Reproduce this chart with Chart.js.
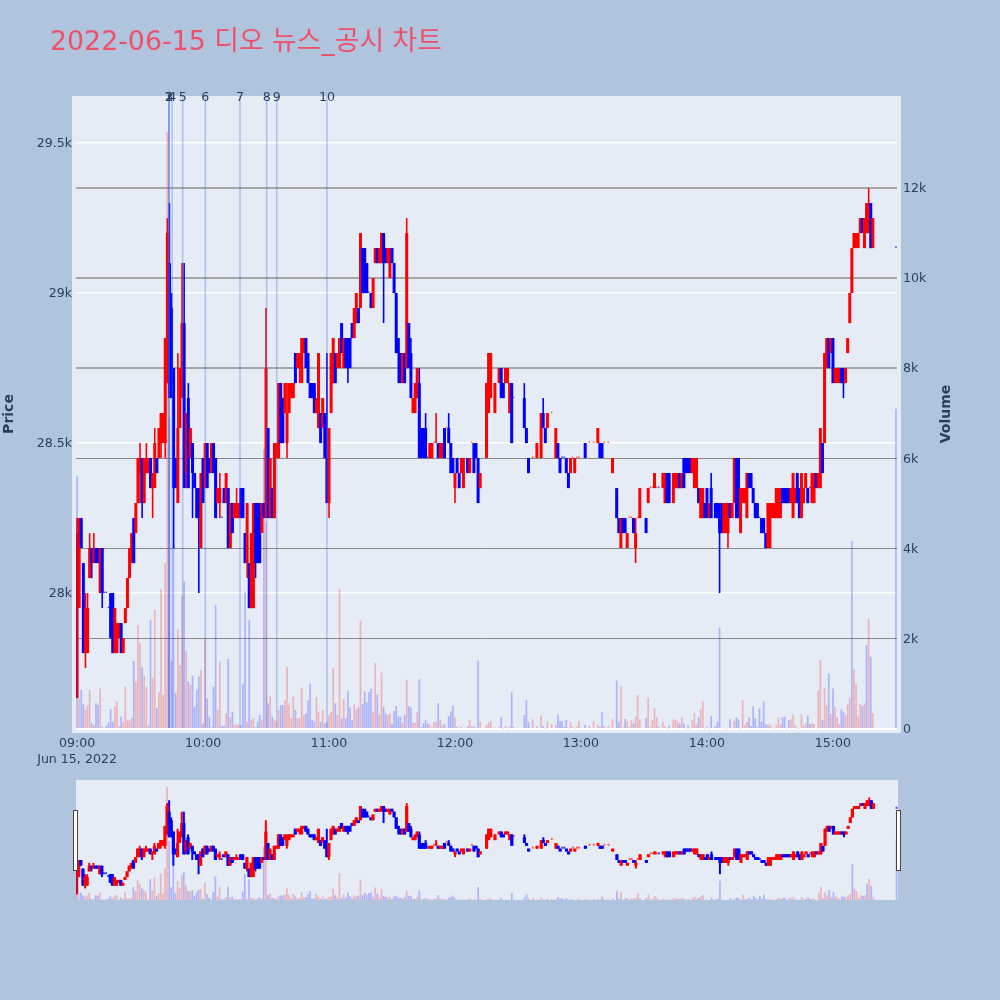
<!DOCTYPE html>
<html>
<head>
<meta charset="utf-8">
<title>2022-06-15 디오 뉴스_공시 차트</title>
<script src="https://cdn.jsdelivr.net/npm/chart.js@4/dist/chart.umd.js"></script>
<style>
body { margin: 0; background: #b0c4de; }
canvas { position: absolute; left: 0; top: 0; }
</style>
</head>
<body>
<canvas id="mainChart" width="1000" height="1000"></canvas>
<canvas id="sliderChart" width="1000" height="1000"></canvas>
<script>
var titleText = "2022-06-15 디오 뉴스_공시 차트";

// one row = 10 minutes, first row starts 09:00
var opens = [
27650,27950,28250,28100,27800,27800,28050,28150,28100,28150,
28150,28000,28150,28000,28000,27950,28000,28000,27800,27800,
27850,27900,27800,27900,27950,28050,28100,28250,28200,28300,
28400,28450,28300,28400,28400,28450,28350,28350,28450,28450,
28500,28500,28500,28700,29100,28950,28750,28450,28300,28550,
28650,28900,28400,28650,28450,28500,28400,28350,28350,28150,
28450,28350,28500,28450,28400,28500,28450,28300,28300,28250,
28350,28300,28350,28150,28300,28250,28250,28250,28350,28350,
28200,28100,28100,27950,27950,28300,28300,28300,28200,28300,
28250,28550,28250,28350,28250,28450,28450,28700,28650,28600,
28500,28600,28650,28650,28800,28750,28750,28700,28800,28850,
28800,28700,28700,28700,28600,28550,28600,28550,28600,28450,
28300,28600,28700,28800,28750,28750,28900,28750,28850,28850,
28850,28900,28850,28900,28950,28950,29150,29150,29100,29000,
29000,28950,29100,29150,29100,29100,29200,29150,29100,29050,
29150,29100,29000,28850,28800,28700,28800,28750,28900,28800,
28600,28600,28650,28700,28550,28550,28550,28450,28450,28450,
28500,28500,28500,28450,28450,28550,28550,28550,28500,28450,
28350,28450,28400,28400,28350,28450,28450,28400,28500,28500,
28500,28450,28350,28400,28400,28450,28600,28650,28650,28600,
28700,28700,28750,28700,28700,28700,28600,28700,28650,28650,
28600,28600,28600,28650,28550,28450,28450,28450,28450,28450,
28450,28450,28600,28550,28550,28600,28600,28450,28450,28500,
28450,28450,28450,28450,28400,28400,28450,28400,28450,28450,
28450,28450,28500,28500,28500,28500,28500,28500,28500,28500,
28500,28500,28500,28500,28450,28400,28350,28350,28250,28150,
28250,28250,28150,28250,28250,28250,28150,28250,28250,28250,
28250,28250,28300,28350,28350,28350,28350,28350,28350,28350,
28300,28400,28400,28350,28300,28350,28350,28400,28350,28450,
28450,28450,28450,28400,28350,28350,28350,28250,28250,28300,
28350,28250,28350,28250,28300,28300,28250,28300,28200,28200,
28200,28300,28250,28300,28450,28450,28200,28300,28300,28250,
28400,28400,28350,28300,28300,28250,28250,28250,28200,28150,
28150,28250,28250,28250,28250,28250,28350,28350,28350,28350,
28300,28250,28300,28400,28350,28250,28300,28350,28350,28350,
28300,28300,28400,28350,28350,28500,28500,28750,28850,28800,
28850,28700,28700,28700,28750,28750,28700,28800,28900,29000,
29150,29150,29150,29200,29250,29150,29200,29200,29300,29150,
null,null,null,null,null,null,null,null,null,null,
29150];

var highs = [
28250,28250,28250,28100,28000,28000,28200,28150,28200,28150,
28150,28150,28150,28000,28000,27950,28000,28000,27950,27900,
27900,27900,27850,27950,28050,28150,28200,28250,28300,28450,
28500,28450,28450,28500,28450,28450,28400,28550,28450,28550,
28600,28600,28850,29250,29300,29000,28750,28450,28800,28750,
29100,29100,28600,28700,28550,28500,28400,28350,28350,28400,
28450,28500,28500,28450,28500,28500,28450,28350,28400,28250,
28350,28400,28350,28300,28300,28300,28350,28300,28350,28350,
28200,28300,28100,28200,28300,28300,28300,28300,28300,28300,
28950,28550,28450,28350,28500,28500,28700,28700,28650,28700,
28700,28700,28700,28700,28800,28800,28800,28850,28850,28850,
28800,28700,28700,28700,28650,28800,28600,28650,28600,28800,
28550,28800,28850,28800,28800,28850,28900,28850,28850,28850,
28850,28900,28950,29000,28950,29200,29150,29150,29100,29000,
29000,29050,29150,29150,29150,29200,29200,29150,29150,29150,
29150,29100,29000,28850,28800,28800,28800,29250,28900,28850,
28650,28700,28750,28750,28550,28550,28600,28450,28500,28500,
28500,28600,28500,28500,28500,28550,28550,28600,28500,28450,
28400,28450,28400,28450,28450,28450,28450,28450,28500,28500,
28500,28450,28400,28400,28400,28700,28800,28800,28650,28700,
28700,28750,28750,28700,28750,28750,28700,28700,28650,28650,
28600,28600,28600,28700,28550,28450,28450,28450,28450,28500,
28450,28600,28650,28550,28600,28600,28600,28450,28550,28500,
28450,28450,28450,28450,28400,28450,28450,28450,28450,28450,
28450,28450,28500,28500,28500,28500,28500,28500,28550,28500,
28500,28500,28500,28500,28450,28450,28350,28350,28250,28250,
28250,28250,28200,28250,28250,28250,28250,28250,28350,28250,
28250,28250,28350,28350,28350,28400,28350,28350,28350,28400,
28400,28400,28400,28350,28400,28400,28400,28400,28400,28450,
28450,28450,28450,28450,28450,28450,28350,28350,28350,28300,
28350,28300,28400,28250,28300,28300,28300,28300,28300,28300,
28300,28300,28300,28450,28450,28450,28350,28350,28350,28400,
28400,28400,28350,28300,28300,28250,28250,28250,28200,28300,
28300,28300,28300,28350,28350,28350,28350,28350,28350,28350,
28350,28400,28350,28400,28350,28400,28350,28400,28350,28350,
28400,28400,28400,28400,28550,28500,28800,28850,28850,28850,
28850,28750,28750,28750,28750,28750,28750,28850,29000,29150,
29200,29200,29200,29250,29250,29250,29300,29350,29300,29250,
null,null,null,null,null,null,null,null,null,null,
29150];

var lows = [
27650,27950,28150,27800,27750,27800,28050,28050,28100,28100,
28100,28000,27950,28000,28000,27950,27850,27800,27800,27800,
27850,27800,27800,27900,27950,28050,28100,28100,28200,28300,
28300,28250,28300,28400,28400,28350,28250,28350,28400,28450,
28450,28500,28450,28700,28650,28650,28150,28350,28300,28550,
28650,28350,28350,28350,28450,28250,28350,28250,28000,28150,
28300,28350,28350,28400,28400,28400,28250,28300,28250,28250,
28300,28300,28150,28150,28200,28250,28250,28250,28250,28250,
28100,28050,27950,27950,27950,28050,28100,28100,28200,28250,
28250,28250,28250,28250,28250,28450,28450,28500,28500,28600,
28450,28600,28650,28650,28700,28750,28700,28700,28800,28750,
28700,28650,28650,28600,28600,28550,28500,28550,28450,28300,
28250,28600,28700,28700,28750,28750,28800,28750,28750,28700,
28750,28850,28850,28900,28900,28950,29000,29000,29000,29000,
28950,28950,29100,29100,29100,29100,28900,29100,29100,29050,
29100,29000,28800,28700,28700,28700,28700,28750,28750,28650,
28600,28600,28650,28450,28450,28450,28450,28450,28450,28450,
28500,28500,28450,28450,28450,28450,28550,28500,28400,28400,
28300,28400,28350,28400,28350,28450,28400,28400,28500,28400,
28450,28300,28350,28400,28400,28450,28600,28650,28650,28600,
28700,28700,28650,28650,28700,28700,28600,28500,28650,28650,
28600,28600,28600,28550,28500,28400,28450,28450,28450,28450,
28450,28450,28550,28500,28550,28600,28600,28450,28450,28450,
28400,28450,28450,28400,28350,28400,28450,28400,28450,28450,
28450,28450,28450,28500,28500,28500,28500,28500,28500,28450,
28450,28500,28500,28500,28450,28400,28350,28250,28200,28150,
28200,28200,28150,28250,28250,28200,28100,28250,28250,28250,
28250,28200,28300,28350,28350,28350,28350,28350,28350,28350,
28300,28300,28300,28350,28300,28350,28350,28350,28350,28350,
28400,28400,28400,28400,28350,28350,28300,28250,28250,28250,
28250,28250,28250,28250,28250,28250,28000,28200,28200,28200,
28150,28250,28250,28300,28250,28250,28200,28300,28300,28250,
28350,28350,28300,28250,28250,28250,28200,28200,28150,28150,
28150,28250,28250,28250,28250,28250,28300,28300,28300,28300,
28300,28250,28300,28300,28250,28250,28300,28350,28300,28350,
28300,28300,28350,28350,28350,28400,28500,28750,28750,28800,
28700,28700,28700,28700,28700,28650,28700,28800,28900,29000,
29150,29150,29150,29200,29200,29150,29200,29200,29150,29150,
null,null,null,null,null,null,null,null,null,null,
29150];

var closes = [
28200,28250,28150,27800,27950,27950,28150,28100,28150,28100,
28100,28150,28000,28000,28000,27950,27850,27800,27950,27900,
27900,27800,27850,27950,28050,28150,28200,28100,28300,28450,
28450,28300,28450,28450,28450,28350,28400,28500,28400,28550,
28600,28600,28850,29200,28650,28700,28350,28350,28550,28750,
28900,28350,28600,28350,28550,28400,28350,28250,28250,28400,
28300,28500,28350,28400,28500,28400,28250,28350,28350,28250,
28300,28400,28150,28300,28200,28300,28300,28300,28250,28250,
28100,28300,27950,28200,28300,28100,28100,28100,28300,28250,
28750,28250,28450,28250,28500,28500,28700,28500,28500,28700,
28600,28700,28700,28700,28700,28800,28800,28850,28850,28750,
28700,28650,28650,28600,28650,28800,28500,28650,28450,28300,
28550,28800,28850,28700,28800,28850,28800,28850,28750,28750,
28750,28850,28950,29000,28900,29200,29000,29000,29000,29000,
28950,29050,29150,29100,29150,29200,29100,29100,29150,29150,
29100,29000,28800,28800,28700,28800,28700,29200,28750,28650,
28650,28700,28750,28450,28450,28450,28450,28450,28500,28500,
28500,28500,28450,28500,28500,28450,28550,28500,28400,28400,
28400,28400,28350,28450,28450,28450,28400,28450,28500,28400,
28450,28300,28400,28400,28400,28700,28800,28800,28650,28700,
28700,28750,28650,28650,28750,28750,28700,28500,28650,28650,
28600,28600,28600,28550,28500,28400,28450,28450,28450,28500,
28450,28600,28550,28500,28600,28600,28600,28450,28550,28450,
28400,28450,28450,28400,28350,28450,28450,28450,28450,28450,
28450,28450,28450,28500,28500,28500,28500,28500,28550,28450,
28450,28500,28500,28500,28450,28450,28350,28250,28200,28250,
28200,28200,28200,28250,28250,28200,28200,28250,28350,28250,
28250,28200,28350,28350,28350,28400,28350,28350,28350,28400,
28400,28300,28300,28350,28400,28400,28400,28350,28400,28350,
28400,28400,28400,28450,28450,28450,28300,28350,28350,28250,
28250,28300,28250,28250,28250,28250,28200,28200,28300,28300,
28300,28250,28300,28450,28250,28250,28350,28350,28350,28400,
28350,28350,28300,28250,28250,28250,28200,28200,28150,28300,
28300,28300,28300,28350,28350,28350,28300,28300,28300,28300,
28350,28400,28350,28300,28250,28400,28350,28400,28300,28350,
28400,28400,28350,28400,28550,28400,28800,28850,28750,28850,
28700,28750,28750,28750,28700,28700,28750,28850,29000,29150,
29200,29200,29200,29250,29200,29250,29300,29300,29150,29250,
null,null,null,null,null,null,null,null,null,null,
29150];

var volumes = [
5600,680,870,550,420,530,870,130,90,570,
530,900,50,15,70,140,440,160,500,610,
50,270,160,940,200,185,240,1510,1050,2300,
1900,1370,1180,940,70,2420,1130,2640,460,810,
3100,755,3680,13240,6900,1500,4100,800,2200,1420,
2950,3270,1730,1050,980,1180,500,870,1160,1310,
125,2010,680,270,50,940,2750,420,1490,70,
70,350,1550,270,385,90,110,90,90,1010,
3050,160,2420,200,240,40,160,310,200,6200,
4600,570,720,270,200,150,420,530,530,640,
1380,570,240,720,420,240,240,920,310,350,
630,1010,200,160,700,385,160,420,125,150,
310,385,1350,570,310,3100,235,665,235,850,
480,200,550,435,480,2400,550,835,590,820,
895,385,1470,760,325,1250,495,350,310,350,
110,400,510,275,275,140,310,1090,510,480,
140,140,375,1100,40,125,205,125,100,40,
160,160,575,200,80,110,20,290,385,515,
260,50,20,50,20,10,65,200,65,50,
30,1515,160,10,10,90,140,185,10,30,
10,50,260,10,65,10,50,810,50,10,
10,10,10,310,640,160,10,215,10,65,
10,300,65,10,170,10,110,10,90,320,
180,180,50,200,10,155,50,10,50,185,
10,10,90,10,65,10,170,10,100,50,
370,65,10,65,10,215,10,1080,160,945,
30,220,185,50,200,125,275,750,215,10,
10,245,695,50,200,460,260,50,10,155,
65,10,80,10,215,200,160,125,260,125,
10,80,10,200,350,100,260,435,610,10,
50,10,290,10,65,155,2250,30,10,10,
10,215,10,180,260,215,10,640,90,155,
250,65,510,235,50,460,160,610,110,90,
100,35,10,90,260,110,260,275,10,200,
215,325,90,10,10,325,80,125,295,110,
140,110,10,850,1530,200,900,525,1235,330,
900,495,260,110,435,385,310,555,695,4170,
1330,1010,275,555,510,570,1860,2450,1600,350,
null,null,null,null,null,null,null,null,null,null,
7100];

// flat minutes that were drawn blue, and minutes where only the volume bar is blue
var blueFlatMinutes = [13,14,15,69,139,167,210,211,212,220,227,231,232,254,256,270,277,283,303,325,349,390];
var blueVolumeMinutes = [0,369,376];
// a flat minute with volume of 10 or less has no visible mark
var noTradeVolume = 10;

// news / disclosure markers, minutes after 09:00
var newsMinutes = [43.7,43.7,43.9,45.3,50.3,61.1,77.6,90.3,95.1,119];
var newsLabels = ["1","2","3","4","5","6","7","8","9","10"];

var hourTicks = [0,60,120,180,240,300,360];
var hourLabels = [["09:00","Jun 15, 2022"],"10:00","11:00","12:00","13:00","14:00","15:00"];
var priceTicks = [28000,28500,29000,29500];
var priceLabels = ["28k","28.5k","29k","29.5k"];
var volumeTicks = [0,2000,4000,6000,8000,10000,12000];
var volumeLabels = ["0","2k","4k","6k","8k","10k","12k"];

var priceMin = 27547, priceMax = 29657, volumeMax = 14035;
var textColor = "#2a3f5f";
var tickFont = { family: '"DejaVu Sans"', size: 12.6, lineHeight: 1.28 };

function isUp(m) {
    if (blueFlatMinutes.includes(m)) return false;
    return closes[m] >= opens[m];
}

function buildDatasets(wickWidth, bodyWidth, volumeWidth, bodyMin) {
    var wicks = [], bodies = [], flats = [], bars = [];
    for (var m = 0; m < opens.length; m++) {
        if (opens[m] == null) continue;
        var flat = opens[m] == closes[m];
        if (flat && volumes[m] <= noTradeVolume) continue;
        wicks.push({ x: m, y: [lows[m], highs[m]], up: isUp(m) });
        if (flat) flats.push({ x: m, y: [opens[m], closes[m]], up: isUp(m) });
        else bodies.push({ x: m, y: [opens[m], closes[m]], up: isUp(m) });
        bars.push({ x: m, y: [0, volumes[m]], up: isUp(m) && !blueVolumeMinutes.includes(m) });
    }
    function candleColor(ctx) { return ctx.raw && ctx.raw.up ? "#ff0000" : "#0000ff"; }
    function flatColor(ctx) { return ctx.raw && ctx.raw.up ? "rgba(255,0,0,0.6)" : "rgba(0,0,255,0.7)"; }
    function volumeColor(ctx) { return ctx.raw && ctx.raw.up ? "rgba(255,0,0,0.24)" : "rgba(0,0,255,0.24)"; }
    return [
        { data: bars, yAxisID: "yVolume", backgroundColor: volumeColor, maxBarThickness: volumeWidth, order: 1 },
        { data: bodies, yAxisID: "y", backgroundColor: candleColor, maxBarThickness: bodyWidth, order: 2 },
        { data: flats, yAxisID: "y", backgroundColor: flatColor, maxBarThickness: wickWidth, minBarLength: bodyMin, order: 3 },
        { data: wicks, yAxisID: "y", backgroundColor: candleColor, maxBarThickness: wickWidth, order: 4 }
    ];
}

function setTicks(values) {
    return function (scale) {
        scale.ticks = values.map(function (v) { return { value: v }; });
    };
}

var plotBackground = {
    id: "plotBackground",
    beforeDraw: function (chart, args, opts) {
        var a = chart.chartArea, ctx = chart.ctx;
        ctx.save();
        ctx.fillStyle = "#e5ecf6";
        ctx.fillRect(a.left - opts.side, a.top, a.width + 2 * opts.side, a.height + opts.below);
        ctx.restore();
    }
};

var chartTexts = {
    id: "chartTexts",
    afterDraw: function (chart) {
        var ctx = chart.ctx, x = chart.scales.x;
        ctx.save();
        ctx.fillStyle = "#ef5069";
        ctx.font = '26.8px "DejaVu Sans", "Noto Sans CJK KR"';
        ctx.textBaseline = "alphabetic";
        ctx.fillText(titleText, 50, 50);

        ctx.fillStyle = textColor;
        ctx.font = '12.6px "DejaVu Sans"';
        ctx.textAlign = "center";
        ctx.textBaseline = "middle";
        for (var i = 0; i < newsMinutes.length; i++) {
            ctx.fillText(newsLabels[i], x.getPixelForValue(newsMinutes[i]), 97.5);
        }

        ctx.font = 'bold 14px "DejaVu Sans"';
        ctx.translate(9, 414);
        ctx.rotate(-Math.PI / 2);
        ctx.fillText("Price", 0, 0);
        ctx.rotate(Math.PI / 2);
        ctx.translate(937, 0);
        ctx.rotate(-Math.PI / 2);
        ctx.fillText("Volume", 0, 0);
        ctx.restore();
    }
};

var sliderHandles = {
    id: "sliderHandles",
    afterDraw: function (chart) {
        var ctx = chart.ctx;
        ctx.save();
        ctx.fillStyle = "#ffffff";
        ctx.strokeStyle = "#444444";
        ctx.lineWidth = 1;
        ctx.fillRect(73.5, 810.5, 4, 60);
        ctx.strokeRect(73.5, 810.5, 4, 60);
        ctx.fillRect(896.5, 810.5, 4, 60);
        ctx.strokeRect(896.5, 810.5, 4, 60);
        ctx.restore();
    }
};

var mainSets = buildDatasets(1.6, 3, 1.7, 1.5);
mainSets.unshift({
    data: newsMinutes.map(function (m) { return { x: m, y: [0, volumeMax] }; }),
    yAxisID: "yVolume",
    backgroundColor: "rgba(60,100,225,0.33)",
    maxBarThickness: 1.5,
    order: 0
});

new Chart(document.getElementById("mainChart"), {
    type: "bar",
    data: { datasets: mainSets },
    plugins: [plotBackground, chartTexts],
    options: {
        responsive: false,
        animation: false,
        devicePixelRatio: 1,
        layout: { padding: { top: 96 } },
        datasets: { bar: { grouped: false, barPercentage: 100, borderWidth: 0 } },
        plugins: {
            legend: { display: false },
            tooltip: { enabled: false },
            plotBackground: { side: 4, below: 4 }
        },
        scales: {
            x: {
                type: "linear",
                offset: false,
                min: -0.5,
                max: 390.5,
                afterBuildTicks: setTicks(hourTicks),
                afterFit: function (s) { s.height = 271; },
                grid: { display: false, offset: false, drawTicks: false },
                border: { display: false },
                ticks: {
                    autoSkip: false,
                    maxRotation: 0,
                    minRotation: 0,
                    padding: 7,
                    color: textColor,
                    font: tickFont,
                    callback: function (v, i) { return hourLabels[i]; }
                }
            },
            y: {
                position: "left",
                min: priceMin,
                max: priceMax,
                afterBuildTicks: setTicks(priceTicks),
                afterFit: function (s) { s.width = 76; },
                grid: { color: "#ffffff", lineWidth: 1.5, drawTicks: false },
                border: { display: false },
                ticks: {
                    padding: 4,
                    labelOffset: 1,
                    color: textColor,
                    font: tickFont,
                    callback: function (v, i) { return priceLabels[i]; }
                }
            },
            yVolume: {
                position: "right",
                min: 0,
                max: volumeMax,
                afterBuildTicks: setTicks(volumeTicks),
                afterFit: function (s) { s.width = 103; },
                grid: {
                    color: function (ctx) {
                        if (ctx.tick.value === 0) return "#ffffff";
                        return ctx.tick.value >= 8000 ? "#a6a6a6" : "#8a8a8a";
                    },
                    lineWidth: function (ctx) {
                        return ctx.tick.value === 0 || ctx.tick.value >= 8000 ? 2 : 1;
                    },
                    drawTicks: false
                },
                border: { display: false },
                ticks: {
                    padding: 6,
                    labelOffset: 1,
                    color: textColor,
                    font: tickFont,
                    callback: function (v, i) { return volumeLabels[i]; }
                }
            }
        }
    }
});

new Chart(document.getElementById("sliderChart"), {
    type: "bar",
    data: { datasets: buildDatasets(2, 3.2, 1.7, 2) },
    plugins: [plotBackground, sliderHandles],
    options: {
        responsive: false,
        animation: false,
        devicePixelRatio: 1,
        layout: { padding: { left: 76, right: 102, top: 780, bottom: 100 } },
        datasets: { bar: { grouped: false, barPercentage: 100, borderWidth: 0 } },
        plugins: {
            legend: { display: false },
            tooltip: { enabled: false },
            plotBackground: { side: 0, below: 0 }
        },
        scales: {
            x: { type: "linear", offset: false, display: false, min: -0.3, max: 390.7 },
            y: { display: false, min: priceMin, max: priceMax },
            yVolume: { display: false, min: 0, max: volumeMax }
        }
    }
});
</script>
</body>
</html>
